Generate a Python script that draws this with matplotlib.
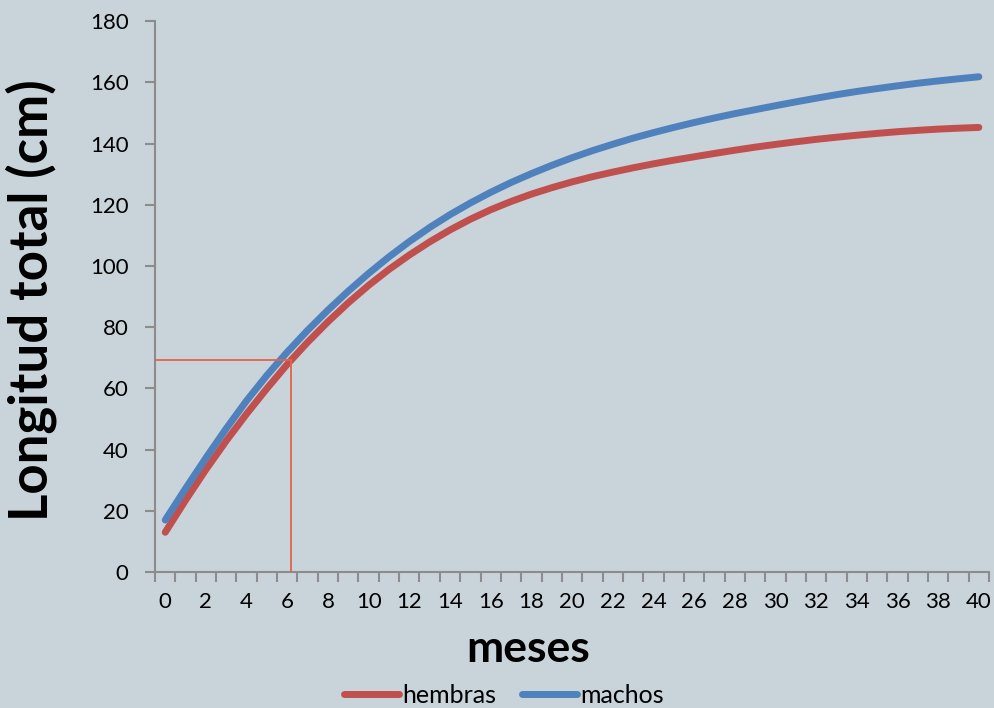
import matplotlib
matplotlib.use("Agg")
import matplotlib.pyplot as plt
import numpy as np

# meses (categorias) y longitud total (cm)
meses = list(range(0, 41))
hembras = [13.0, 23.5, 33.5, 42.9, 51.7, 60.0, 67.9, 75.1, 81.8, 88.0,
           93.7, 98.9, 103.6, 107.9, 111.8, 115.3, 118.4, 121.1, 123.5, 125.6,
           127.5, 129.2, 130.7, 132.1, 133.4, 134.6, 135.7, 136.8, 137.85, 138.85,
           139.75, 140.6, 141.4, 142.1, 142.75, 143.35, 143.9, 144.35, 144.75, 145.05,
           145.3]
machos = [17.0, 27.3, 37.3, 46.9, 56.0, 64.3, 71.9, 79.0, 85.6, 91.8,
          97.6, 103.0, 108.0, 112.6, 116.8, 120.6, 124.1, 127.3, 130.2, 132.9,
          135.4, 137.7, 139.8, 141.8, 143.6, 145.3, 146.9, 148.4, 149.8, 151.1,
          152.4, 153.65, 154.85, 156.0, 157.05, 158.0, 158.9, 159.75, 160.5, 161.2,
          161.85]
# linea de referencia (mes, longitud)
ref_mes = 6.17
ref_long = 69.4

plt.rcParams['font.family'] = ['Lato', 'DejaVu Sans']
bg = '#C8D3DA'
spine = '#8C8C8C'

fig = plt.figure(figsize=(9.94, 7.08), dpi=100, facecolor=bg)
ax = fig.add_axes([0.156, 0.192, 0.839, 0.778], facecolor=bg)

ax.plot(meses, hembras, color='#C0504D', lw=5, solid_capstyle='round',
        solid_joinstyle='round', label='hembras', zorder=3)
ax.plot(meses, machos, color='#4F81BD', lw=5, solid_capstyle='round',
        solid_joinstyle='round', label='machos', zorder=3)

# lineas de referencia
ax.plot([-0.5, ref_mes], [ref_long, ref_long], color='#E0654A', lw=1.3, zorder=4)
ax.plot([ref_mes, ref_mes], [0, ref_long], color='#E0654A', lw=1.3, zorder=4)

ax.set_xlim(-0.5, 40.5)
ax.set_ylim(0, 180)
ax.set_yticks(np.arange(0, 181, 20))
ax.set_xticks(meses[::2])
ax.set_xticks(np.arange(-0.5, 41, 1), minor=True)

for s in ['top', 'right']:
    ax.spines[s].set_visible(False)
for s in ['left', 'bottom']:
    ax.spines[s].set_color(spine)
    ax.spines[s].set_linewidth(1.5)

ax.tick_params(axis='y', direction='out', length=7, width=1.5, color=spine, labelsize=16, pad=12)
ax.tick_params(axis='x', which='major', length=0, labelsize=16, pad=14)
ax.tick_params(axis='x', which='minor', direction='out', length=7, width=1.5, color=spine)

fig.text(528 / 994, 1 - 662 / 708, 'meses', fontsize=32, fontweight='bold',
         ha='center', va='baseline')
fig.text(48 / 994, 1 - 300 / 708, 'Longitud total (cm)', fontsize=38, fontweight='bold',
         rotation=90, rotation_mode='anchor', ha='center', va='baseline')

leg = fig.legend(loc='center', bbox_to_anchor=(504 / 994, 0.018), ncol=2, frameon=False,
                 fontsize=18, handlelength=2.2, handletextpad=0.16, columnspacing=1.0)

fig.savefig('out.png', dpi=100, facecolor=bg)
